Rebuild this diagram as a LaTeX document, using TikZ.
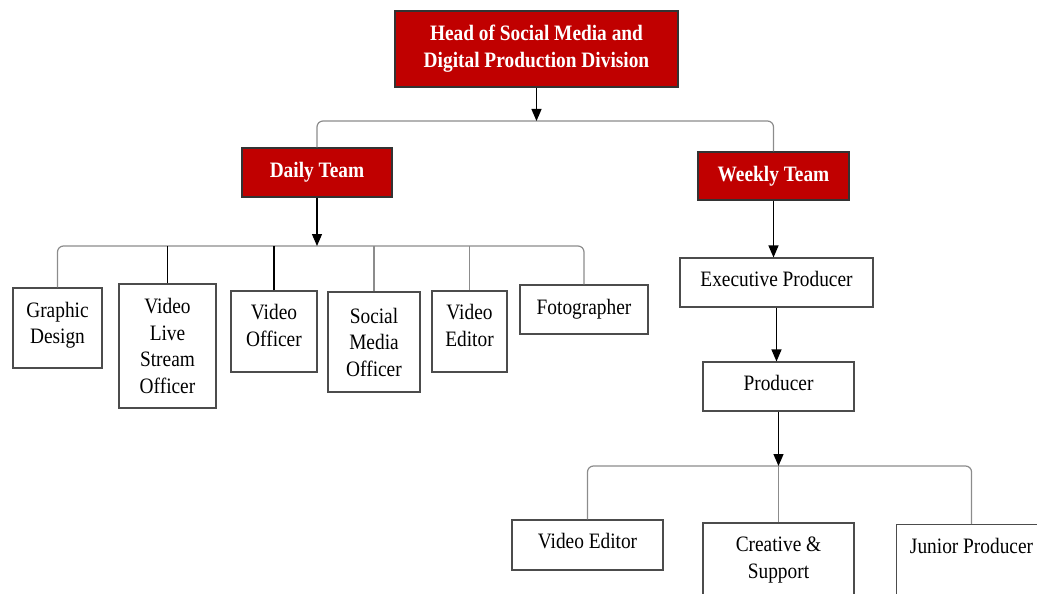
\documentclass[tikz,border=0pt]{standalone}
\usepackage{fontspec}
\setmainfont{Liberation Serif}[FakeStretch=0.88]
\usetikzlibrary{arrows.meta}
\definecolor{hred}{HTML}{C00000}
\begin{document}
\begin{tikzpicture}[x=1pt,y=-1pt,
  font=\fontsize{22}{26.5}\selectfont,
  box/.style={draw=black!70, line width=1.1pt, fill=white, align=center, inner sep=0pt},
  redbox/.style={draw=black!80, line width=1.1pt, fill=hred, text=white, align=center, inner sep=0pt,
    font=\fontsize{22}{27}\selectfont\bfseries},
  conn/.style={draw=black!45, line width=1.2pt, rounded corners=6pt},
  dconn/.style={draw=black, line width=1.1pt},
  arr/.style={draw=black, line width=1.2pt, -{Triangle[length=12pt,width=10pt]}}]
\path[use as bounding box] (0,0) rectangle (1037,594);
\clip (0,0) rectangle (1037,594);

% top level
\node[redbox, minimum width=283, minimum height=76] (head) at (536.5,49) {Head of Social Media and\\Digital Production Division};
\node[redbox, minimum width=150, minimum height=49] (daily) at (317,172.5) {Daily Team};
\node[redbox, minimum width=151, minimum height=48] (weekly) at (773.5,176) {Weekly Team};
\coordinate (hb) at (536.5,121);

% daily team members
\node[box, minimum width=89, minimum height=80, text depth=10pt] (gd) at (57.5,328) {Graphic\\Design};
\node[box, minimum width=97, minimum height=124] (vls) at (167.5,346) {Video\\Live\\Stream\\Officer};
\node[box, minimum width=86, minimum height=81, text depth=12pt] (vo) at (274,331.5) {Video\\Officer};
\node[box, minimum width=92, minimum height=100] (smo) at (374,342) {Social\\Media\\Officer};
\node[box, minimum width=75, minimum height=81, text depth=12pt] (ve) at (469.5,331.5) {Video\\Editor};
\node[box, minimum width=128, minimum height=49] (fot) at (584,309.5) {Fotographer};
\coordinate (db) at (317,246);

% weekly team chain
\node[box, minimum width=193, minimum height=49, text depth=8pt] (ep) at (776.5,282.5) {Executive Producer};
\node[box, minimum width=151, minimum height=49, text depth=8pt] (prod) at (778.5,386.5) {Producer};
\coordinate (pb) at (778.5,466);
\node[box, minimum width=151, minimum height=50, text depth=8pt] (ve2) at (587.5,545) {Video Editor};
\node[box, minimum width=151, minimum height=74] (cs) at (778.5,560) {Creative \&\\Support};
\node[box, anchor=north west, minimum width=150, minimum height=100, text depth=57pt] (jp) at (896,524) {Junior Producer};

% connectors: head
\draw[conn] (daily.north) |- (hb) -| (weekly.north);
\draw[arr] (head.south) -- (hb);

% connectors: daily
\draw[conn] (gd.north) |- (db) -| (fot.north);
\draw[dconn] (vls.north) -- (vls.north |- db);
\draw[dconn] (vo.north) -- (vo.north |- db);
\draw[conn] (smo.north) -- (smo.north |- db);
\draw[conn] (ve.north) -- (ve.north |- db);
\draw[arr] (daily.south) -- (db);

% connectors: weekly
\draw[arr] (weekly.south) -- (weekly.south |- ep.north);
\draw[arr] (ep.south) -- (ep.south |- prod.north);
\draw[conn] (ve2.north) |- (pb) -| (jp.north);
\draw[conn] (cs.north) -- (cs.north |- pb);
\draw[arr] (prod.south) -- (pb);
\end{tikzpicture}
\end{document}
